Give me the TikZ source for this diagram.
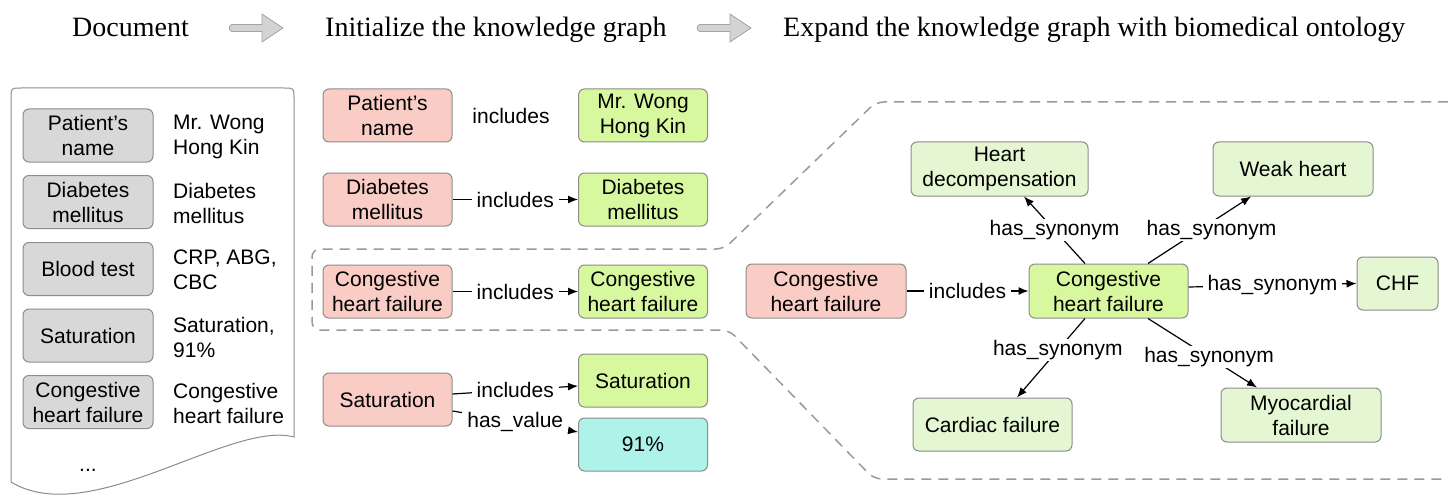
\documentclass[tikz,border=0pt]{standalone}
\usepackage{fontspec}
\setmainfont{Liberation Sans}
\newfontfamily\titlefont{Liberation Serif}
\usetikzlibrary{arrows.meta,calc}
\definecolor{bordc}{HTML}{8C8C8C}
\definecolor{docgray}{HTML}{D8D8D8}
\definecolor{pinkc}{HTML}{F9CDC5}
\definecolor{limec}{HTML}{D8F8A0}
\definecolor{palec}{HTML}{E4F7D2}
\definecolor{cyanc}{HTML}{ADF3E9}
\definecolor{dashc}{HTML}{9A9A9A}
\definecolor{arrowgray}{HTML}{D3D3D3}
\tikzset{
  box/.style={rectangle, rounded corners=6pt, draw=bordc, line width=1pt, align=center,
    font=\fontsize{21}{25}\selectfont, inner sep=2pt, minimum height=53pt},
  docbox/.style={box, fill=docgray, minimum width=130pt},
  srcbox/.style={box, fill=pinkc, minimum width=129pt},
  entbox/.style={box, fill=limec, minimum width=129pt},
  synbox/.style={box, fill=palec, minimum height=54pt},
  valbox/.style={box, fill=cyanc, minimum width=129pt},
  plain/.style={inner sep=0pt, align=left, font=\fontsize{21}{25}\selectfont},
  lbl/.style={fill=white, inner xsep=5pt, inner ysep=1pt, font=\fontsize{21}{25}\selectfont},
  rel/.style={line width=1.2pt, -{Latex[length=10pt,width=8pt]}},
  dashline/.style={draw=dashc, line width=1.5pt, dash pattern=on 10pt off 7pt},
  docline/.style={draw=bordc, line width=1pt, fill=white},
  blockarrow/.style={draw=bordc!80, line width=0.8pt, fill=arrowgray},
  title/.style={anchor=base west, inner sep=0pt, font=\titlefont\fontsize{28}{32}\selectfont}
}
\begin{document}
\begin{tikzpicture}[x=1pt,y=-1pt]
\useasboundingbox (0,0) rectangle (1448,500);

% titles
\node[title] (t1) at (72,37) {Document};
\node[title] (t2) at (325,37) {Initialize the knowledge graph};
\node[title] (t3) at (783,37) {Expand the knowledge graph with biomedical ontology};
\draw[blockarrow] (232,24.5) -- (262,24.5) -- (262,14) -- (283,28) -- (262,42) -- (262,31.5) -- (232,31.5) .. controls (228.5,31.5) and (228.5,24.5) .. (232,24.5) -- cycle;
\draw[blockarrow] (700,24.5) -- (730,24.5) -- (730,14) -- (751,28) -- (730,42) -- (730,31.5) -- (700,31.5) .. controls (696.5,31.5) and (696.5,24.5) .. (700,24.5) -- cycle;

% document shape
\draw[docline] (294,437) .. controls (230,420) and (90,530) .. (11,482) -- (11,98) .. controls (11,88) .. (21,88) -- (284,88) .. controls (294,88) .. (294,98) -- cycle;
\node[docbox] (d1) at (88,135.5) {Patient’s\\name};
\node[docbox] (d2) at (88,202) {Diabetes\\mellitus};
\node[docbox] (d3) at (88,269) {Blood test};
\node[docbox] (d4) at (88,335.5) {Saturation};
\node[docbox] (d5) at (88,402) {Congestive\\heart failure};
\node[plain, anchor=west] (v1) at (173,137) {Mr. Wong\\Hong Kin};
\node[plain, anchor=west] (v2) at (173,203) {Diabetes\\mellitus};
\node[plain, anchor=west] (v3) at (173,270) {CRP, ABG,\\CBC};
\node[plain, anchor=west] (v4) at (173,337) {Saturation,\\91\%};
\node[plain, anchor=west] (v5) at (173,403) {Congestive\\heart failure};
\node[plain] (dots) at (88,470) {...};

% dashed zoom outline
\draw[dashline, rounded corners=8pt] (1448,102) -- (876,102) -- (724,249) -- (312,249) -- (312,330) -- (729,330) -- (874,479) -- (1448,479);

% initial knowledge graph
\node[srcbox] (p1) at (387.5,115.5) {Patient’s\\name};
\node[entbox] (e1) at (643,115.5) {Mr. Wong\\Hong Kin};
\node[plain] (l1) at (511,116) {includes};
\node[srcbox] (p2) at (387.5,199.5) {Diabetes\\mellitus};
\node[entbox] (e2) at (643,199.5) {Diabetes\\mellitus};
\node[srcbox] (p3) at (387.5,291.5) {Congestive\\heart failure};
\node[entbox] (e3) at (643,291.5) {Congestive\\heart failure};
\node[srcbox] (p4) at (387.5,399.5) {Saturation};
\node[entbox] (e4) at (643,380.5) {Saturation};
\node[valbox] (w4) at (643,444.5) {91\%};
\draw[rel] (p2.east) -- node[lbl] {includes} (e2.west);
\draw[rel] (p3.east) -- node[lbl] {includes} (e3.west);
\draw[rel] ([yshift=5.5pt]p4.east) -- node[lbl] {includes} ([yshift=-5.5pt]e4.west);
\draw[rel] ([yshift=-11.5pt]p4.east) -- node[lbl] {has\_value} ([yshift=12.5pt]w4.west);

% expanded graph
\node[srcbox, minimum width=160pt, minimum height=54pt] (rp) at (826,291) {Congestive\\heart failure};
\node[entbox, minimum width=159pt, minimum height=54pt] (cen) at (1108.5,291) {Congestive\\heart failure};
\node[synbox, minimum width=177pt] (hd) at (999.5,169) {Heart\\decompensation};
\node[synbox, minimum width=160pt] (wh) at (1293,169) {Weak heart};
\node[synbox, minimum width=81pt, minimum height=53pt] (chf) at (1397.5,283.5) {CHF};
\node[synbox, minimum width=159pt, minimum height=53pt] (cf) at (992.5,424.5) {Cardiac failure};
\node[synbox, minimum width=160pt] (mf) at (1301,415) {Myocardial\\failure};
\draw[rel] (rp.east) -- node[lbl] {includes} (cen.west);
\draw[rel] ([xshift=-23.5pt]cen.north) -- node[lbl] {has\_synonym} ([xshift=24.5pt]hd.south);
\draw[rel] ([xshift=39.5pt]cen.north) -- node[lbl, xshift=12pt] {has\_synonym} ([xshift=-42pt]wh.south);
\draw[rel] ([yshift=4pt]cen.east) -- node[lbl] {has\_synonym} (chf.west);
\draw[rel] ([xshift=-23.5pt]cen.south) -- node[lbl, pos=0.4] {has\_synonym} ([xshift=24.5pt]cf.north);
\draw[rel] ([xshift=39.5pt]cen.south) -- node[lbl, pos=0.56] {has\_synonym} ([xshift=-44pt]mf.north);
\end{tikzpicture}
\end{document}
